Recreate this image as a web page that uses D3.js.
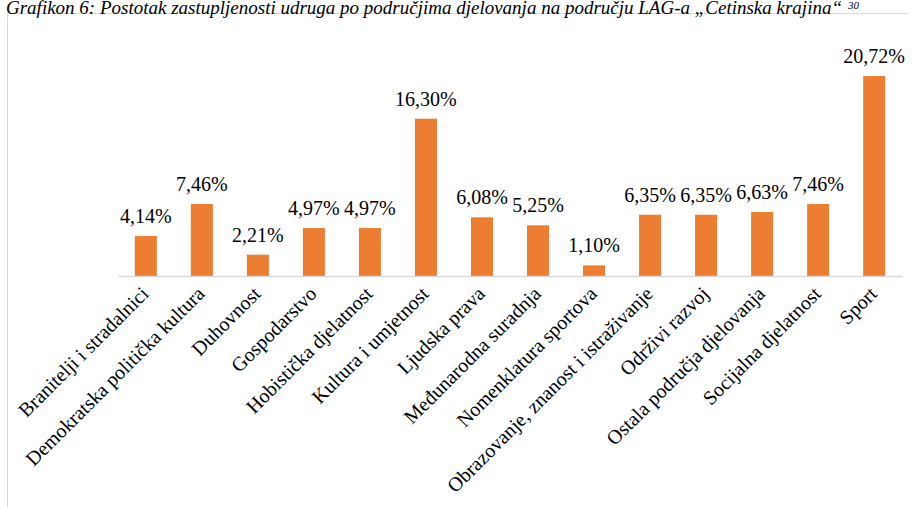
<!DOCTYPE html>
<html>
<head>
<meta charset="utf-8">
<script src="https://cdn.jsdelivr.net/npm/d3@7"></script>
<style>
  body { margin: 0; background: #fff; }
  svg { display: block; }
</style>
</head>
<body>
<svg></svg>
<script>
const svgWidth = 918;
const svgHeight = 507;
const serif = '"Liberation Serif"';

const categories = [
  "Branitelji i stradalnici", "Demokratska politička kultura", "Duhovnost",
  "Gospodarstvo", "Hobistička djelatnost", "Kultura i umjetnost",
  "Ljudska prava", "Međunarodna suradnja", "Nomenklatura sportova",
  "Obrazovanje, znanost i istraživanje", "Održivi razvoj",
  "Ostala područja djelovanja", "Socijalna djelatnost", "Sport"
];
const values = [4.14, 7.46, 2.21, 4.97, 4.97, 16.30, 6.08, 5.25, 1.10, 6.35, 6.35, 6.63, 7.46, 20.72];

const svg = d3.select("svg")
  .attr("width", svgWidth)
  .attr("height", svgHeight);

// frame around the chart
svg.append("path")
  .attr("d", "M7.5,507 V13.5 H909")
  .attr("fill", "none")
  .attr("stroke", "#d9d9d9")
  .attr("stroke-width", 1);

// title
const title = svg.append("text")
  .attr("x", 6)
  .attr("y", 14)
  .style("font-family", serif)
  .style("font-size", "19px")
  .style("font-style", "italic");
title.append("tspan").text("Grafikon 6: Postotak zastupljenosti udruga po područjima djelovanja na području LAG-a „Cetinska krajina“");
title.append("tspan").style("font-size", "11px").attr("dx", 6).attr("dy", -5).text("30");

const x = d3.scaleBand()
  .domain(categories)
  .range([118, 902])
  .paddingInner(0.607)
  .paddingOuter(0.3);

const y = d3.scaleLinear()
  .domain([0, 25])
  .range([276, 276 - 25 * 9.65]);

svg.selectAll("rect.bar")
  .data(values)
  .enter()
  .append("rect")
  .attr("class", "bar")
  .attr("x", (d, i) => x(categories[i]))
  .attr("width", x.bandwidth())
  .attr("y", d => y(d))
  .attr("height", d => y(0) - y(d))
  .attr("fill", "#ed7d31");

// baseline axis
const xAxis = svg.append("g")
  .attr("transform", `translate(0,${y(0)})`)
  .call(d3.axisBottom(x).tickSize(0).tickFormat(""));
xAxis.select(".domain").attr("stroke", "#d9d9d9").attr("stroke-width", 1.3);

// value labels
svg.selectAll("text.val")
  .data(values)
  .enter()
  .append("text")
  .attr("class", "val")
  .style("font-family", serif)
  .style("font-size", "20px")
  .attr("x", (d, i) => x(categories[i]) + x.bandwidth() / 2)
  .attr("y", d => y(d) - 13)
  .attr("text-anchor", "middle")
  .text(d => d.toFixed(2).replace(".", ",") + "%");

// category labels, rotated -45deg
svg.selectAll("text.cat")
  .data(categories)
  .enter()
  .append("text")
  .attr("class", "cat")
  .style("font-family", serif)
  .style("font-size", "20px")
  .attr("text-anchor", "end")
  .attr("transform", d => `translate(${x(d) + x.bandwidth() / 2 + 4},${y(0) + 19}) rotate(-45)`)
  .text(d => d);
</script>
</body>
</html>
